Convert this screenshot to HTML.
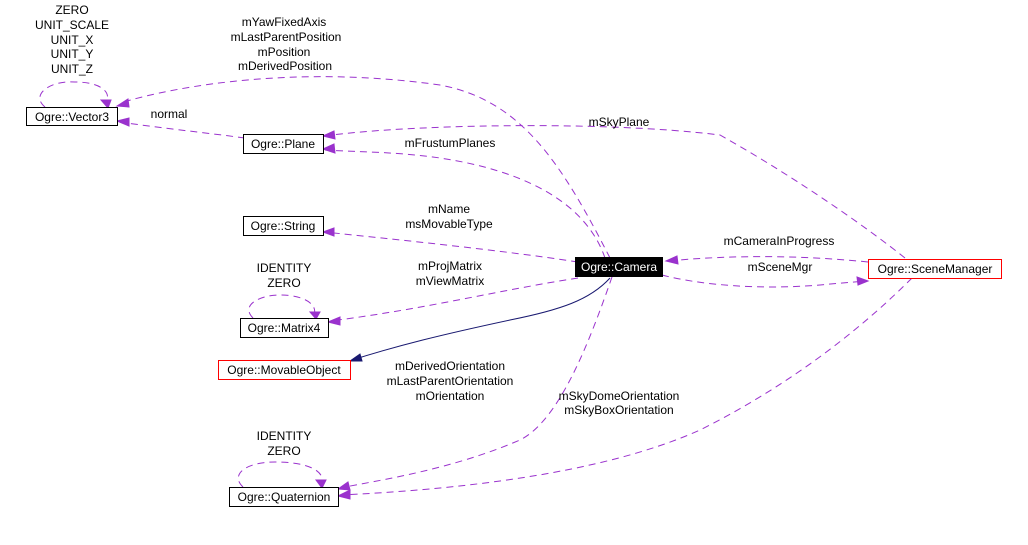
<!DOCTYPE html>
<html><head><meta charset="utf-8"><style>
body{margin:0;background:#fff;width:1028px;height:545px;overflow:hidden}
svg{display:block}
text{font-family:"Liberation Sans",sans-serif;font-size:12px;fill:#000}
.e{fill:none;stroke:#9a32cd;stroke-width:1;stroke-dasharray:7,5}
.a{fill:#9a32cd;stroke:#9a32cd}
</style></head><body>
<svg width="1028" height="545" viewBox="0 0 1028 545">
<!-- edges -->
<path class="e" d="M45,107 C30,95 50,80 75,82 C100,82 112,92 106,102"/>
<polygon class="a" points="101,100 111,100 108,108"/>
<path class="e" d="M610,258 C560,160 520,100 440,85 C300,65 180,85 120,103"/>
<polygon class="a" points="117,106 128,99 129,107"/>
<path class="e" d="M245,138 C200,132 160,128 120,122"/>
<polygon class="a" points="117,121 129,118 129,126"/>
<path class="e" d="M905,258 C870,230 800,180 720,135 C600,120 400,125 325,136"/>
<polygon class="a" points="323,136 334,131 335,139"/>
<path class="e" d="M605,258 C585,200 520,170 440,158 C400,152 360,152 325,150"/>
<polygon class="a" points="323,149 334,144 335,153"/>
<path class="e" d="M578,262 C500,250 400,240 325,232"/>
<polygon class="a" points="323,232 334,228 334,236"/>
<path class="e" d="M253,318 C240,305 260,295 280,295 C305,295 318,305 314,315"/>
<polygon class="a" points="310,312 320,312 316,319"/>
<path class="e" d="M578,278 C500,290 420,310 330,321"/>
<polygon class="a" points="328,322 340,317 340,325"/>
<path d="M610,278 C590,300 560,310 510,320 C440,335 400,345 352,360" fill="none" stroke="#191970" stroke-width="1"/>
<polygon points="350,361 360,354 362,361" fill="#191970" stroke="#191970"/>
<path class="e" d="M612,277 C590,340 560,420 520,440 C450,470 380,480 340,488"/>
<polygon class="a" points="338,489 348,482 350,490"/>
<path class="e" d="M243,487 C230,475 245,462 275,462 C310,462 325,472 322,483"/>
<polygon class="a" points="316,480 326,480 322,488"/>
<path class="e" d="M912,278 C870,320 800,380 700,430 C600,475 450,490 340,495"/>
<polygon class="a" points="338,496 350,490 350,499"/>
<path class="e" d="M868,262 C800,255 730,255 668,261"/>
<polygon class="a" points="666,261 677,256 678,264"/>
<path class="e" d="M662,275 C700,285 760,290 820,285 C840,283 855,282 866,281"/>
<polygon class="a" points="868,281 857,277 858,285"/>
<!-- nodes -->
<rect x="26.5" y="107.5" width="91" height="18" fill="#fff" stroke="#000"/>
<text x="72" y="121" text-anchor="middle">Ogre::Vector3</text>
<rect x="243.5" y="134.5" width="80" height="19" fill="#fff" stroke="#000"/>
<text x="283" y="148" text-anchor="middle">Ogre::Plane</text>
<rect x="243.5" y="216.5" width="80" height="19" fill="#fff" stroke="#000"/>
<text x="283" y="230" text-anchor="middle">Ogre::String</text>
<rect x="240.5" y="318.5" width="88" height="19" fill="#fff" stroke="#000"/>
<text x="284" y="332" text-anchor="middle">Ogre::Matrix4</text>
<rect x="218.5" y="360.5" width="132" height="19" fill="#fff" stroke="#f00"/>
<text x="284" y="374" text-anchor="middle">Ogre::MovableObject</text>
<rect x="229.5" y="487.5" width="109" height="19" fill="#fff" stroke="#000"/>
<text x="284" y="501" text-anchor="middle">Ogre::Quaternion</text>
<rect x="575" y="257" width="88" height="20" fill="#000"/>
<text x="619" y="271" text-anchor="middle" style="fill:#fff">Ogre::Camera</text>
<rect x="868.5" y="259.5" width="133" height="19" fill="#fff" stroke="#f00"/>
<text x="935" y="273" text-anchor="middle">Ogre::SceneManager</text>
<!-- labels -->
<g text-anchor="middle">
<text x="72" y="14">ZERO</text><text x="72" y="29">UNIT_SCALE</text><text x="72" y="44">UNIT_X</text><text x="72" y="58">UNIT_Y</text><text x="72" y="73">UNIT_Z</text>
<text x="284" y="26">mYawFixedAxis</text><text x="286" y="41">mLastParentPosition</text><text x="284" y="56">mPosition</text><text x="285" y="70">mDerivedPosition</text>
<text x="169" y="118">normal</text>
<text x="619" y="126">mSkyPlane</text>
<text x="450" y="147">mFrustumPlanes</text>
<text x="449" y="213">mName</text><text x="449" y="228">msMovableType</text>
<text x="779" y="245">mCameraInProgress</text>
<text x="780" y="271">mSceneMgr</text>
<text x="284" y="272">IDENTITY</text><text x="284" y="287">ZERO</text>
<text x="450" y="270">mProjMatrix</text><text x="450" y="285">mViewMatrix</text>
<text x="450" y="370">mDerivedOrientation</text><text x="450" y="385">mLastParentOrientation</text><text x="450" y="400">mOrientation</text>
<text x="619" y="400">mSkyDomeOrientation</text><text x="619" y="414">mSkyBoxOrientation</text>
<text x="284" y="440">IDENTITY</text><text x="284" y="455">ZERO</text>
</g>
</svg>
</body></html>
